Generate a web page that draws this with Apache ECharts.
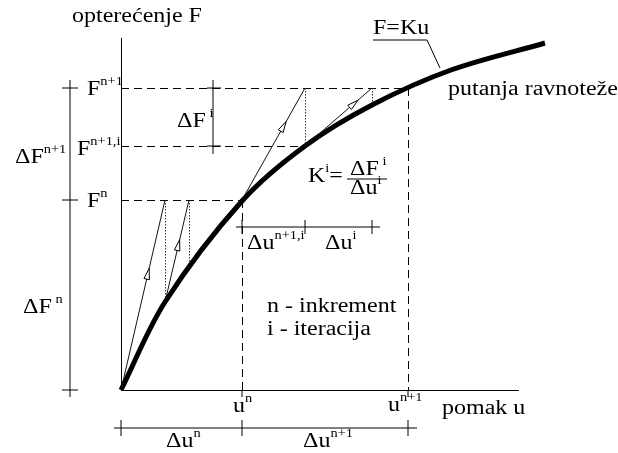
<!DOCTYPE html>
<html>
<head>
<meta charset="utf-8">
<script src="https://cdn.jsdelivr.net/npm/echarts@6/dist/echarts.min.js"></script>
<style>
  html, body { margin: 0; background: #fff; }
  #chart { width: 618px; height: 453px; }
</style>
</head>
<body>
<div id="chart"></div>
<script>
// putanja ravnoteže F=Ku (u, F)
const pathU = [0, 44, 121, 184, 251, 330, 424];
const pathF = [0, 88, 189, 244, 285, 320, 347];

// u^n, u^{n+1}
const uLevels = [121, 287];
// F^n, F^{n+1,i}, F^{n+1}
const fLevels = [190, 244, 302];
// axis lengths
const uMax = 398;
const fMax = 352;

// iteracije: tangente i vertikalne korekcije
const predictors = [
  [[0, 0], [44, 190]],
  [[44, 88], [68, 190]],
  [[121, 190], [184, 302]],
  [[184, 244], [251, 302]]
];
const correctors = [
  [[44, 190], [44, 88]],
  [[68, 190], [68, 128]],
  [[184, 302], [184, 244]],
  [[251, 302], [251, 286]]
];
const arrowAt = [0.64, 0.61, 0.7, 0.79];

// kote (dimension lines) and their ticks
const dimLines = [
  [[-51, 310], [-51, -7]],
  [[92, 310], [92, 236]],
  [[115, 163], [259, 163]],
  [[-7, -38], [296, -38]]
];
const dimTicks = [
  [[-59, 302], [-43, 302]], [[-59, 190], [-43, 190]], [[-59, 0], [-43, 0]],
  [[86, 302], [100, 302]], [[86, 244], [100, 244]],
  [[121, 156], [121, 170]], [[184, 156], [184, 170]], [[251, 156], [251, 170]],
  [[0, -30], [0, -46]], [[121, -30], [121, -46]], [[287, -30], [287, -46]],
  [[121, 0], [121, -7]], [[287, 0], [287, -7]]
];
// F=Ku leader, fraction bar
const leader = [[252, 350], [306, 350], [319, 322]];
const fracBar = [[226, 211], [266, 211]];

// [u, F, text, align]
const labels = [
  [16, 373, '{b|opterećenje F}', 'center'],
  [-34, 300.5, '{b|F}{s|n+1}', 'left'],
  [-44, 240, '{b|F}{s|n+1,i}', 'left'],
  [-34, 188, '{b|F}{s|n}', 'left'],
  [-106, 232, '{b|ΔF}{s|n+1}', 'left'],
  [-98, 82, '{b|ΔF}{s| n}', 'left'],
  [56, 268, '{b|ΔF}{s| i}', 'left'],
  [252, 361, '{b|F=Ku}', 'left'],
  [327, 300.5, '{b|putanja ravnoteže}', 'left'],
  [187, 213.5, '{b|K}{s|i}{b|=}', 'left'],
  [229, 220, '{b|ΔF}{s| i}', 'left'],
  [229, 201, '{b|Δu}{s|i}', 'left'],
  [126, 146.5, '{b|Δu}{s|n+1,i}', 'left'],
  [204, 146, '{b|Δu}{s|i}', 'left'],
  [146, 83.5, '{b|n - inkrement}', 'left'],
  [146, 60, '{b|i - iteracija}', 'left'],
  [112, -16.5, '{b|u}{s|n}', 'left'],
  [267, -16, '{b|u}{s|n+1}', 'left'],
  [321, -18.5, '{b|pomak u}', 'left'],
  [45, -52, '{b|Δu}{s|n}', 'left'],
  [182, -52, '{b|Δu}{s|n+1}', 'left']
];

const serif = "'Liberation Serif', 'Times New Roman', serif";
const rich = {
  b: { fontSize: 20, lineHeight: 20, fontFamily: serif, verticalAlign: 'middle' },
  s: { fontSize: 12, lineHeight: 12, fontFamily: serif, verticalAlign: 'middle', padding: [0, 0, 16, 0] }
};

const axes = [
  [[0, 0], [uMax, 0]],
  [[0, 0], [0, fMax]]
];
const guides = [
  [[0, fLevels[2]], [uLevels[1], fLevels[2]]],
  [[0, fLevels[1]], [184, fLevels[1]]],
  [[0, fLevels[0]], [uLevels[0], fLevels[0]]],
  [[uLevels[0], fLevels[0]], [uLevels[0], 0]],
  [[uLevels[1], fLevels[2]], [uLevels[1], 0]]
];

function segs(list) {
  return list.map(c => ({ coords: c }));
}

// smooth stroke through the read points, tangents weighted by segment length
function smoothPath(pts) {
  const n = pts.length;
  const dist = (a, b) => Math.hypot(b[0] - a[0], b[1] - a[1]);
  const tan = pts.map((p, i) => {
    const a = pts[Math.max(i - 1, 0)];
    const b = pts[Math.min(i + 1, n - 1)];
    const l = dist(a, p) + dist(p, b);
    return [(b[0] - a[0]) / l, (b[1] - a[1]) / l];
  });
  let d = 'M' + pts[0][0] + ' ' + pts[0][1];
  for (let i = 0; i < n - 1; i++) {
    const p1 = pts[i], p2 = pts[i + 1];
    const s = dist(p1, p2) / 3;
    const c1 = [p1[0] + tan[i][0] * s, p1[1] + tan[i][1] * s];
    const c2 = [p2[0] - tan[i + 1][0] * s, p2[1] - tan[i + 1][1] * s];
    d += ' C' + c1.join(' ') + ' ' + c2.join(' ') + ' ' + p2.join(' ');
  }
  return d;
}

const chart = echarts.init(document.getElementById('chart'));
chart.setOption({
  animation: false,
  grid: { left: 121, right: 0, top: 0, bottom: 63 },
  xAxis: {
    type: 'value', min: 0, max: 497, show: false
  },
  yAxis: {
    type: 'value', min: 0, max: 390, show: false
  },
  series: [
    {
      type: 'lines', coordinateSystem: 'cartesian2d', clip: false, silent: true,
      data: segs(guides),
      lineStyle: { color: '#000', width: 1, type: [8, 5], opacity: 1 }
    },
    {
      type: 'lines', coordinateSystem: 'cartesian2d', clip: false, silent: true,
      data: segs(correctors),
      lineStyle: { color: '#333', width: 1, type: [1.5, 1.5], opacity: 1 }
    },
    {
      type: 'lines', coordinateSystem: 'cartesian2d', clip: false, silent: true,
      data: segs(axes),
      lineStyle: { color: '#000', width: 1, opacity: 1 }
    },
    {
      type: 'custom', coordinateSystem: 'cartesian2d', silent: true,
      data: [[pathU[0], pathF[0]]],
      renderItem(params, api) {
        const pts = pathU.map((u, i) => api.coord([u, pathF[i]]));
        return {
          type: 'path',
          shape: { pathData: smoothPath(pts) },
          style: { fill: 'none', stroke: '#000', lineWidth: 5 }
        };
      }
    },
    {
      type: 'lines', coordinateSystem: 'cartesian2d', clip: false, silent: true,
      data: segs(predictors),
      lineStyle: { color: '#111', width: 1, opacity: 1 }
    },
    {
      type: 'lines', coordinateSystem: 'cartesian2d', clip: false, silent: true,
      data: segs(dimLines.concat(dimTicks)).concat([{ coords: leader }, { coords: fracBar }]),
      polyline: true,
      lineStyle: { color: '#000', width: 1, opacity: 1 }
    },
    {
      type: 'custom', coordinateSystem: 'cartesian2d', silent: true,
      data: predictors.map(s => [s[0][0], s[0][1]]),
      renderItem(params, api) {
        const seg = predictors[params.dataIndex];
        const a = api.coord(seg[0]);
        const b = api.coord(seg[1]);
        const dx = b[0] - a[0], dy = b[1] - a[1];
        const len = Math.hypot(dx, dy);
        const ux = dx / len, uy = dy / len;
        const t = arrowAt[params.dataIndex];
        const tip = [a[0] + dx * t, a[1] + dy * t];
        const base = [tip[0] - ux * 11, tip[1] - uy * 11];
        const w = 2.8;
        return {
          type: 'polygon',
          shape: { points: [tip, [base[0] - uy * w, base[1] + ux * w], [base[0] + uy * w, base[1] - ux * w]] },
          style: { fill: '#fff', stroke: '#000', lineWidth: 1 }
        };
      }
    },
    {
      type: 'custom', coordinateSystem: 'cartesian2d', silent: true,
      data: labels.map(l => [l[0], l[1]]),
      renderItem(params, api) {
        const l = labels[params.dataIndex];
        const p = api.coord([l[0], l[1]]);
        return {
          type: 'text', x: p[0], y: p[1], scaleX: 1.2,
          style: {
            text: l[2], rich: rich, fontSize: 20, fontFamily: serif,
            align: l[3], verticalAlign: 'middle', fill: '#000'
          }
        };
      }
    }
  ]
});
</script>
</body>
</html>
